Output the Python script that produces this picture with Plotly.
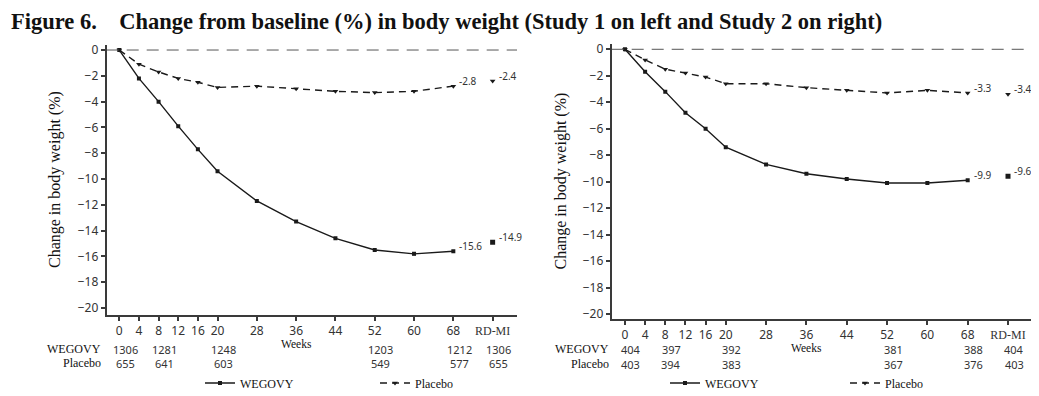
import plotly.graph_objects as go

# ---------------- data ----------------
weeks = [0, 4, 8, 12, 16, 20, 28, 36, 44, 52, 60, 68]
rdmi_week = 76
tick_vals = [0, 4, 8, 12, 16, 20, 28, 36, 44, 52, 60, 68]

s1_wegovy = [0, -2.2, -4.0, -5.9, -7.7, -9.4, -11.7, -13.3, -14.6, -15.5, -15.8, -15.6]
s1_placebo = [0, -1.1, -1.7, -2.2, -2.5, -2.9, -2.8, -3.0, -3.2, -3.3, -3.2, -2.8]
s1_rdmi_wegovy = -14.9
s1_rdmi_placebo = -2.4

s2_wegovy = [0, -1.7, -3.2, -4.8, -6.0, -7.4, -8.7, -9.4, -9.8, -10.1, -10.1, -9.9]
s2_placebo = [0, -0.8, -1.5, -1.8, -2.1, -2.6, -2.6, -2.9, -3.1, -3.3, -3.1, -3.3]
s2_rdmi_wegovy = -9.6
s2_rdmi_placebo = -3.4

n_weeks = [0, 8, 20, 52, 68, 76]
s1_n_wegovy = [1306, 1281, 1248, 1203, 1212, 1306]
s1_n_placebo = [655, 641, 603, 549, 577, 655]
s2_n_wegovy = [404, 397, 392, 381, 388, 404]
s2_n_placebo = [403, 394, 383, 367, 376, 403]

title_text = "Figure 6.\u00a0\u00a0\u00a0\u00a0Change from baseline (%) in body weight (Study 1 on left and Study 2 on right)"

# ---------------- styles ----------------
# the page body has an 8px margin, so the figure is made 8px smaller and
# all window-pixel positions below are converted with that offset
OFF = 8
W, H = 1039 - OFF, 396 - OFF
SANS = "Noto Sans"
SERIF = "Liberation Serif"
LINE_C = "#1a1a1a"
AX_C = "#3a3a3a"
TXT_C = "#333333"

def py(px):
    return 1 - (px - OFF) / H

def pxx(px):
    return (px - OFF) / W

panels = [
    dict(xa="x", ya="y", xdom=[pxx(106.7), pxx(517)], ydom=[py(315), py(45)],
         xr=[-2.56, 80.96], yr=[-20.54, 0.39],
         weg=s1_wegovy, pla=s1_placebo, rw=s1_rdmi_wegovy, rp=s1_rdmi_placebo,
         nw=s1_n_wegovy, np_=s1_n_placebo, legend="legend", leg_x=200, leg_w=130,
         row_y=(349, 363), label_x=103, weeks_y=344, ytitle_x=55),
    dict(xa="x2", ya="y2", xdom=[pxx(611.7), pxx(1031.7)], ydom=[py(319), py(44)],
         xr=[-2.63, 80.7], yr=[-20.38, 0.4],
         weg=s2_wegovy, pla=s2_placebo, rw=s2_rdmi_wegovy, rp=s2_rdmi_placebo,
         nw=s2_n_wegovy, np_=s2_n_placebo, legend="legend2", leg_x=665, leg_w=135,
         row_y=(349, 364), label_x=610.7, weeks_y=348, ytitle_x=560),
]

fig = go.Figure()
annotations = []
shapes = []
legends = {}

for i, p in enumerate(panels):
    fig.add_trace(go.Scatter(
        x=weeks, y=p["weg"], mode="lines+markers", name="WEGOVY",
        xaxis=p["xa"], yaxis=p["ya"], legend=p["legend"],
        line=dict(color=LINE_C, width=1.4),
        marker=dict(symbol="square", size=4, color=LINE_C)))
    fig.add_trace(go.Scatter(
        x=weeks, y=p["pla"], mode="lines+markers", name="Placebo",
        xaxis=p["xa"], yaxis=p["ya"], legend=p["legend"],
        line=dict(color=LINE_C, width=1.4, dash="7px,5px"),
        marker=dict(symbol="triangle-down", size=5, color=LINE_C)))
    fig.add_trace(go.Scatter(
        x=[rdmi_week], y=[p["rw"]], mode="markers", showlegend=False,
        xaxis=p["xa"], yaxis=p["ya"],
        marker=dict(symbol="square", size=5, color=LINE_C)))
    fig.add_trace(go.Scatter(
        x=[rdmi_week], y=[p["rp"]], mode="markers", showlegend=False,
        xaxis=p["xa"], yaxis=p["ya"],
        marker=dict(symbol="triangle-down", size=5, color=LINE_C)))

    # value labels
    for xv, yv in [(weeks[-1], p["pla"][-1]), (rdmi_week, p["rp"]),
                   (weeks[-1], p["weg"][-1]), (rdmi_week, p["rw"])]:
        annotations.append(dict(
            x=xv, y=yv, xref=p["xa"], yref=p["ya"], text=f"{yv:.1f}",
            showarrow=False, xanchor="left", yanchor="middle",
            xshift=4, yshift=5, font=dict(family=SANS, size=10, color=TXT_C)))

    # zero reference line
    shapes.append(dict(type="line", xref=f"{p['xa']} domain", yref=p["ya"],
                       x0=0, x1=1, y0=0, y1=0,
                       line=dict(color="#555555", width=1, dash="12px,8px")))

    # N at risk table
    rw_y, rp_y = p["row_y"]
    annotations.append(dict(x=pxx(p["label_x"]), y=py(rw_y), xref="paper", yref="paper",
                            text="WEGOVY", showarrow=False, xanchor="right", yanchor="middle",
                            font=dict(family=SERIF, size=12, color="#111")))
    annotations.append(dict(x=pxx(p["label_x"]), y=py(rp_y), xref="paper", yref="paper",
                            text="Placebo", showarrow=False, xanchor="right", yanchor="middle",
                            font=dict(family=SERIF, size=12, color="#111")))
    for wk, a, b in zip(n_weeks, p["nw"], p["np_"]):
        annotations.append(dict(x=wk, y=py(rw_y), xref=p["xa"], yref="paper", text=str(a),
                                showarrow=False, xanchor="center", yanchor="middle", xshift=6,
                                font=dict(family=SANS, size=11, color=TXT_C)))
        annotations.append(dict(x=wk, y=py(rp_y), xref=p["xa"], yref="paper", text=str(b),
                                showarrow=False, xanchor="center", yanchor="middle", xshift=6,
                                font=dict(family=SANS, size=11, color=TXT_C)))
    annotations.append(dict(x=36, y=py(p["weeks_y"]), xref=p["xa"], yref="paper", text="Weeks",
                            showarrow=False, xanchor="center", yanchor="middle",
                            font=dict(family=SERIF, size=11.5, color="#111")))
    # y axis title
    annotations.append(dict(x=pxx(p["ytitle_x"]), y=(p["ydom"][0] + p["ydom"][1]) / 2,
                            xref="paper", yref="paper", text="Change in body weight (%)",
                            textangle=-90, showarrow=False, xanchor="center", yanchor="middle",
                            font=dict(family=SERIF, size=16, color="#111")))

    sfx = "" if i == 0 else "2"
    axis_common = dict(showgrid=False, zeroline=False, showline=True, linecolor=AX_C,
                       linewidth=2, ticks="outside", ticklen=4, tickwidth=1.5, tickcolor=AX_C,
                       automargin=False,
                       tickfont=dict(family=SANS, size=12, color=TXT_C))
    fig.update_layout(**{
        f"xaxis{sfx}": dict(domain=p["xdom"], range=p["xr"], anchor=p["ya"],
                            tickvals=tick_vals + [rdmi_week],
                            ticktext=[str(t) for t in tick_vals]
                            + [f'<span style="font-family:{SERIF}">RD-MI</span>'],
                            **axis_common),
        f"yaxis{sfx}": dict(domain=p["ydom"], range=p["yr"], anchor=p["xa"],
                            tickvals=list(range(0, -21, -2)), **axis_common),
    })
    legends[p["legend"]] = dict(
        orientation="h", x=pxx(p["leg_x"]), y=py(383), xanchor="left", yanchor="middle",
        entrywidth=p["leg_w"], entrywidthmode="pixels",
        font=dict(family=SERIF, size=12, color="#111"), bgcolor="rgba(0,0,0,0)")

annotations.append(dict(x=pxx(10), y=py(8), xref="paper", yref="paper", text=f"<b>{title_text}</b>",
                        showarrow=False, xanchor="left", yanchor="top", borderpad=0,
                        font=dict(family=SERIF, size=22.5, color="#111")))

fig.update_layout(
    width=W, height=H, margin=dict(l=0, r=0, t=0, b=0, autoexpand=False),
    paper_bgcolor="white", plot_bgcolor="white",
    annotations=annotations, shapes=shapes, **legends,
)

fig.write_html("out.html")
